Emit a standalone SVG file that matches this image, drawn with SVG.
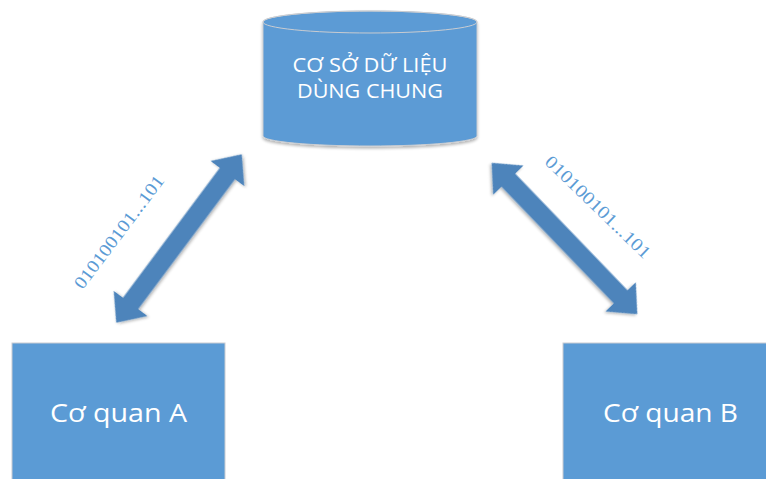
<svg xmlns="http://www.w3.org/2000/svg" width="766" height="479" viewBox="0 0 766 479">
<style>
.box{fill:#5b9bd5;stroke:#c9ccd1;stroke-width:1}
.lbl{font-family:"Open Sans","Noto Sans","DejaVu Sans",sans-serif;fill:#ffffff;text-anchor:middle}
.arrow{fill:#4d84bb;filter:url(#sh)}
.bin{font-family:"Liberation Serif","DejaVu Serif",serif;fill:#5b9bd5;font-size:18px;text-anchor:middle}
</style>
<defs>
<filter id="sh" x="-20%" y="-20%" width="140%" height="140%">
<feGaussianBlur in="SourceAlpha" stdDeviation="1.5"/>
<feOffset dx="0" dy="1.5" result="b"/>
<feComponentTransfer><feFuncA type="linear" slope="0.3"/></feComponentTransfer>
<feMerge><feMergeNode/><feMergeNode in="SourceGraphic"/></feMerge>
</filter>
<polygon id="dbl" points="-105,0 -81,-21 -81,-9.5 81,-9.5 81,-21 105,0 81,21 81,9.5 -81,9.5 -81,21"/>
</defs>
<rect width="766" height="479" fill="#ffffff"/>
<g id="db">
<path class="box" filter="url(#sh)" d="M263,22 L263,136 A107,10 0 0 0 477,136 L477,22 A107,11 0 0 0 263,22 Z"/>
<ellipse cx="370" cy="22" rx="107" ry="11" fill="none" stroke="#c9ccd1" stroke-width="1"/>
<text class="lbl" x="370" y="72" font-size="20" textLength="155" lengthAdjust="spacingAndGlyphs">CƠ SỞ DỮ LIỆU</text>
<text class="lbl" x="370" y="98" font-size="20" textLength="146" lengthAdjust="spacingAndGlyphs">DÙNG CHUNG</text>
</g>
<g id="nodeA">
<rect class="box" x="12" y="343" width="213" height="140"/>
<text class="lbl" x="118.5" y="422" font-size="25" textLength="137" lengthAdjust="spacingAndGlyphs">Cơ quan A</text>
</g>
<g id="nodeB">
<rect class="box" x="563" y="343" width="210" height="140"/>
<text class="lbl" x="670.5" y="422" font-size="25" textLength="135" lengthAdjust="spacingAndGlyphs">Cơ quan B</text>
</g>
<g id="connectors">
<use href="#dbl" class="arrow" transform="translate(179,238.5) rotate(-53.3)"/>
<use href="#dbl" class="arrow" transform="translate(564.5,238.5) rotate(46.1)"/>
<text class="bin" transform="translate(119,232) rotate(-53)" dy="6" textLength="137" lengthAdjust="spacingAndGlyphs">010100101...101</text>
<text class="bin" transform="translate(598,207) rotate(44)" dy="6" textLength="139" lengthAdjust="spacingAndGlyphs">010100101...101</text>
</g>
</svg>
